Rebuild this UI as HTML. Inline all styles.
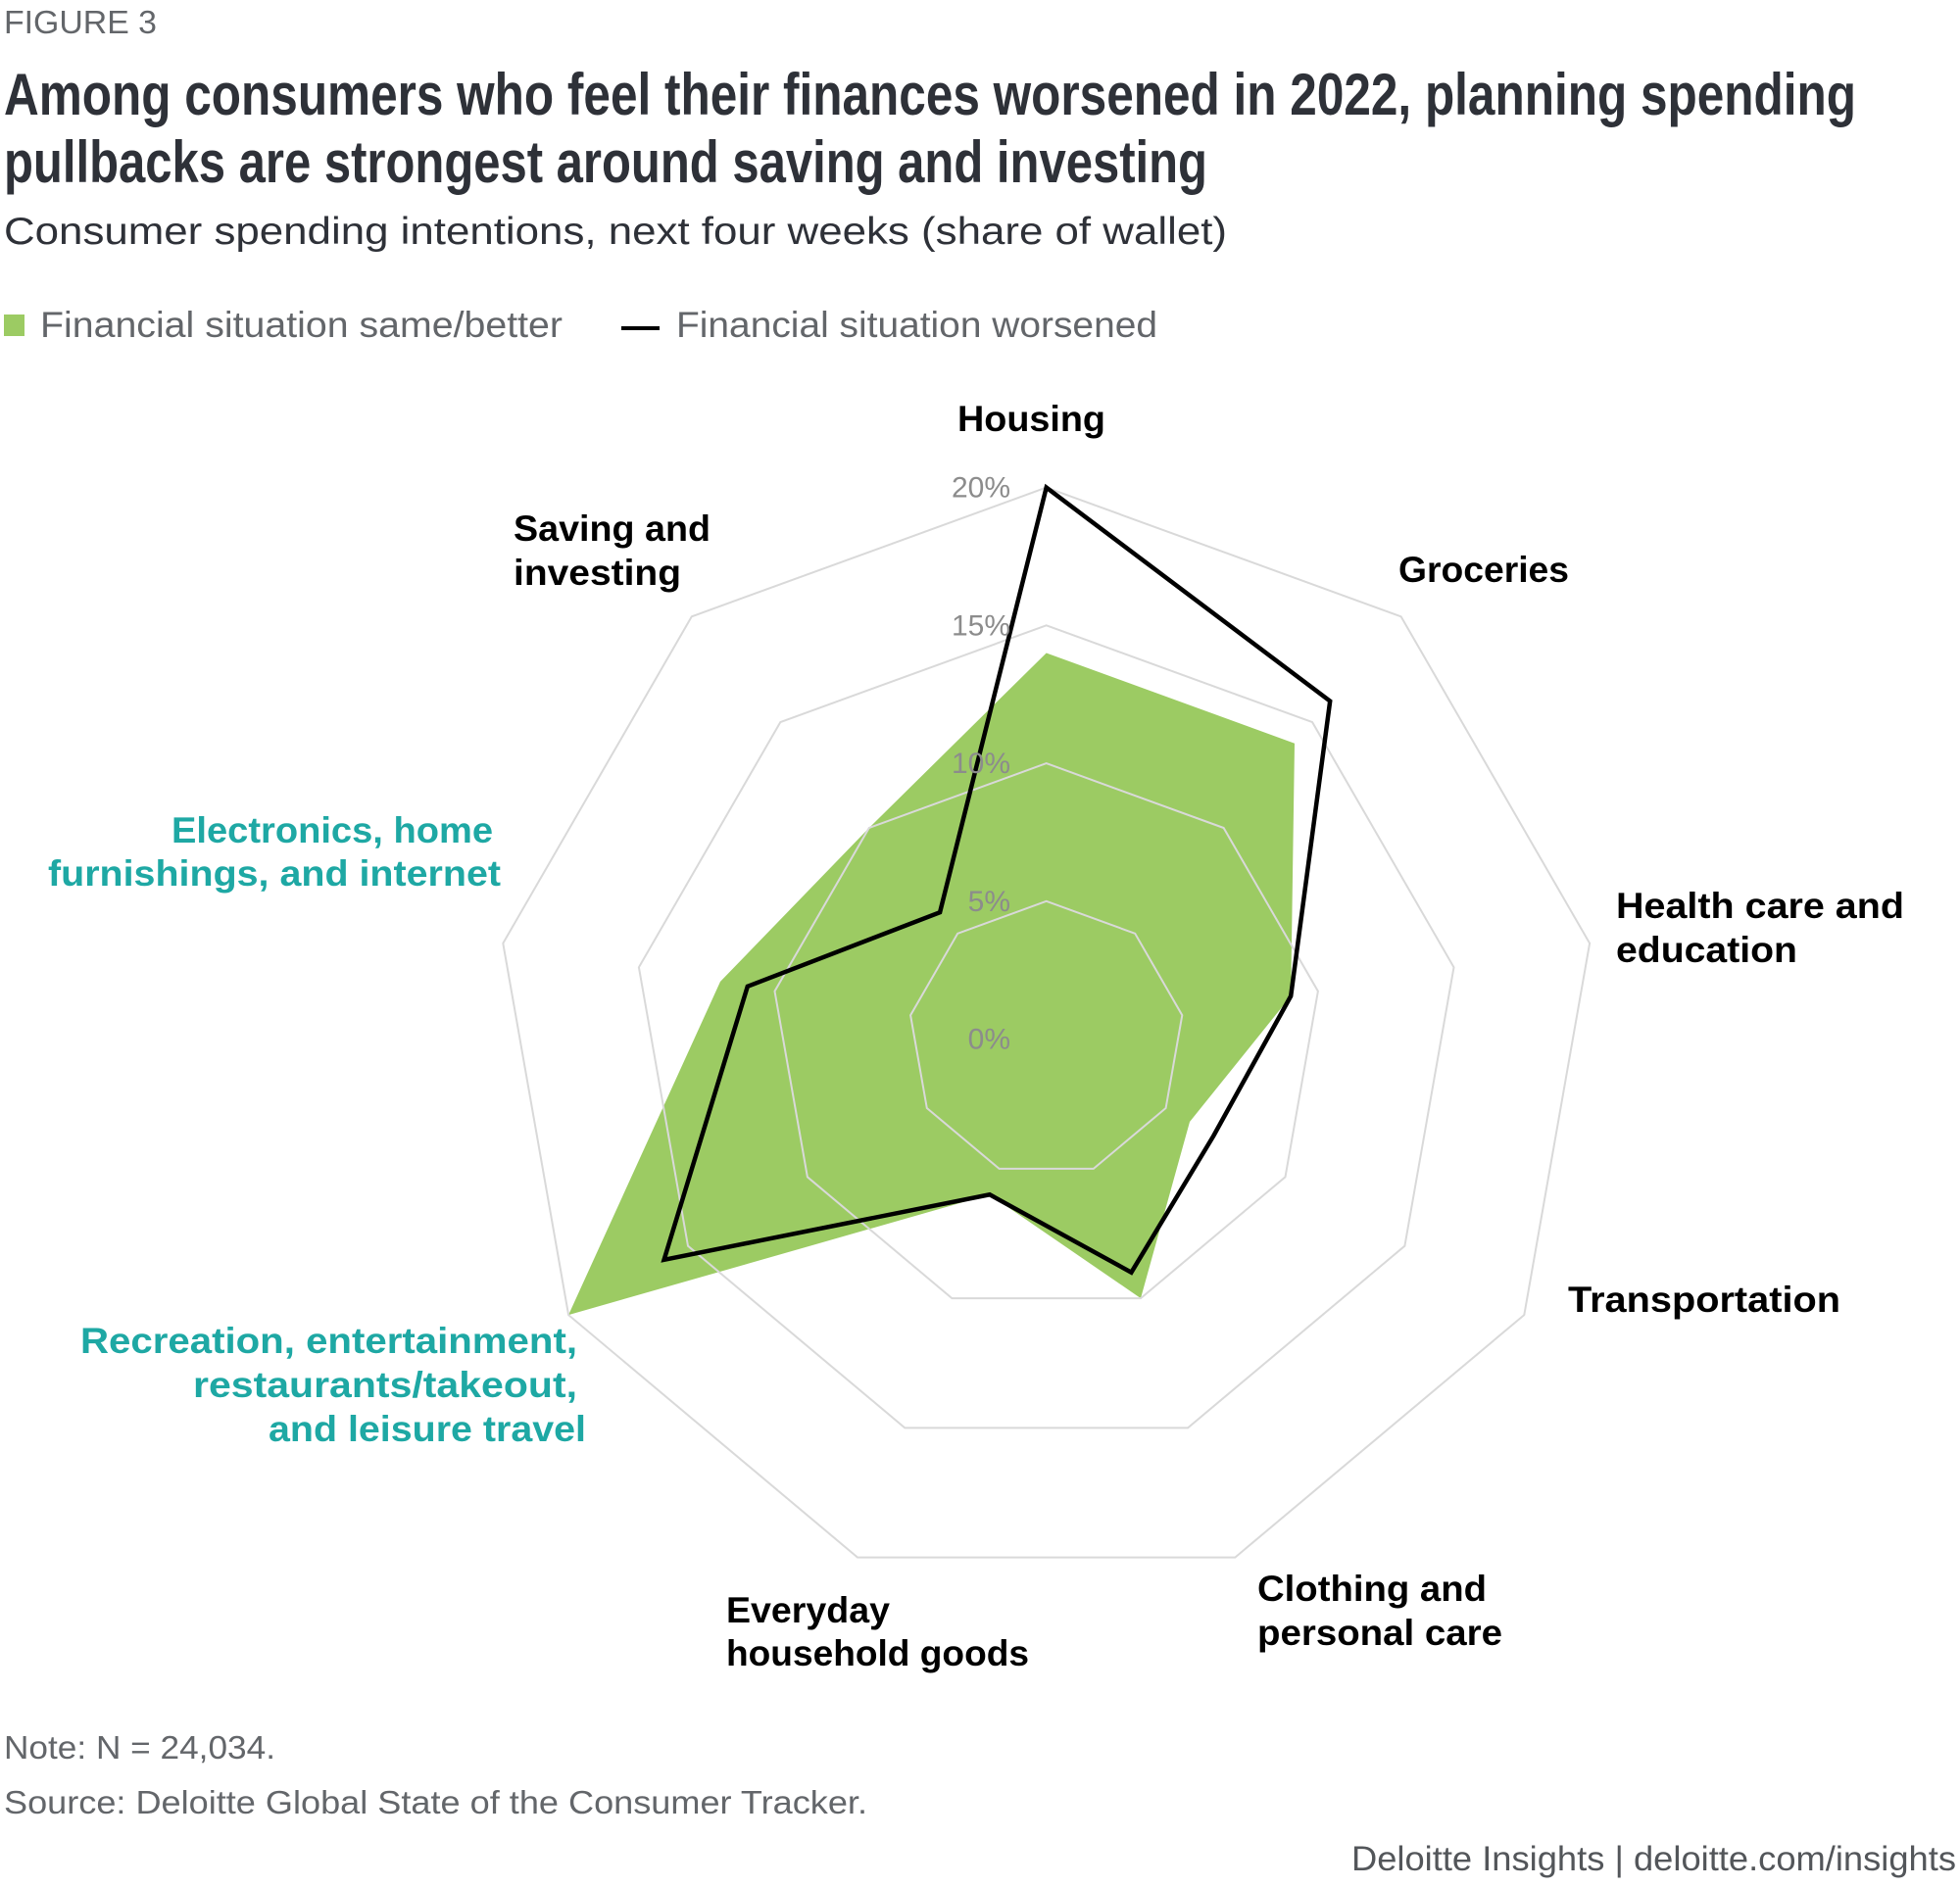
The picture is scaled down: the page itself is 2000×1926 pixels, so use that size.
<!DOCTYPE html>
<html><head><meta charset="utf-8"><style>
html,body{margin:0;padding:0;background:#fff;}
svg{display:block;}
text{font-family:"Liberation Sans",sans-serif;}
</style></head><body>
<svg id="chart" width="2000" height="1926" viewBox="0 0 2000 1926" xmlns="http://www.w3.org/2000/svg">
<text x="4" y="34" font-size="33" fill="#63666a" textLength="156" lengthAdjust="spacingAndGlyphs">FIGURE 3</text>
<text x="4" y="117" font-size="60" font-weight="bold" fill="#2e3138" textLength="1890" lengthAdjust="spacingAndGlyphs">Among consumers who feel their finances worsened in 2022, planning spending</text>
<text x="4" y="186" font-size="60" font-weight="bold" fill="#2e3138" textLength="1228" lengthAdjust="spacingAndGlyphs">pullbacks are strongest around saving and investing</text>
<text x="4" y="249" font-size="39" fill="#2e3138" textLength="1248" lengthAdjust="spacingAndGlyphs">Consumer spending intentions, next four weeks (share of wallet)</text>
<g>
<rect x="4" y="321" width="21" height="22" fill="#9ccb63"/>
<text x="41" y="344" font-size="37" fill="#63666a" textLength="533" lengthAdjust="spacingAndGlyphs">Financial situation same/better</text>
<line x1="634" y1="335" x2="673" y2="335" stroke="#000" stroke-width="4"/>
<text x="690" y="344" font-size="37" fill="#63666a" textLength="491" lengthAdjust="spacingAndGlyphs">Financial situation worsened</text>
</g>
<g id="plot"></g>
<g font-size="37" font-weight="bold">
<text x="977" y="440" fill="#000" textLength="151" lengthAdjust="spacingAndGlyphs">Housing</text>
<text x="524" y="552" fill="#000" textLength="201" lengthAdjust="spacingAndGlyphs">Saving and</text>
<text x="524" y="597" fill="#000" textLength="171" lengthAdjust="spacingAndGlyphs">investing</text>
<text x="1427" y="594" fill="#000" textLength="174" lengthAdjust="spacingAndGlyphs">Groceries</text>
<text x="1649" y="937" fill="#000" textLength="294" lengthAdjust="spacingAndGlyphs">Health care and</text>
<text x="1649" y="982" fill="#000" textLength="185" lengthAdjust="spacingAndGlyphs">education</text>
<text x="1600" y="1339" fill="#000" textLength="278" lengthAdjust="spacingAndGlyphs">Transportation</text>
<text x="1283" y="1634" fill="#000" textLength="234" lengthAdjust="spacingAndGlyphs">Clothing and</text>
<text x="1283" y="1679" fill="#000" textLength="250" lengthAdjust="spacingAndGlyphs">personal care</text>
<text x="741" y="1656" fill="#000" textLength="167" lengthAdjust="spacingAndGlyphs">Everyday</text>
<text x="741" y="1700" fill="#000" textLength="309" lengthAdjust="spacingAndGlyphs">household goods</text>
<text x="589" y="1381" fill="#1ea8a4" text-anchor="end" textLength="507" lengthAdjust="spacingAndGlyphs">Recreation, entertainment,</text>
<text x="589" y="1426" fill="#1ea8a4" text-anchor="end" textLength="392" lengthAdjust="spacingAndGlyphs">restaurants/takeout,</text>
<text x="598" y="1471" fill="#1ea8a4" text-anchor="end" textLength="324" lengthAdjust="spacingAndGlyphs">and leisure travel</text>
<text x="503" y="860" fill="#1ea8a4" text-anchor="end" textLength="328" lengthAdjust="spacingAndGlyphs">Electronics, home</text>
<text x="511" y="904" fill="#1ea8a4" text-anchor="end" textLength="462" lengthAdjust="spacingAndGlyphs">furnishings, and internet</text>
</g>
<text x="4" y="1795" font-size="33" fill="#63666a" textLength="277" lengthAdjust="spacingAndGlyphs">Note: N = 24,034.</text>
<text x="4" y="1851" font-size="33" fill="#63666a" textLength="881" lengthAdjust="spacingAndGlyphs">Source: Deloitte Global State of the Consumer Tracker.</text>
<text x="1996" y="1909" font-size="35" fill="#53565a" text-anchor="end" textLength="617" lengthAdjust="spacingAndGlyphs">Deloitte Insights | deloitte.com/insights</text>
</svg>
<script>
const categories = ["Housing","Groceries","Health care and education","Transportation","Clothing and personal care","Everyday household goods","Recreation, entertainment, restaurants/takeout, and leisure travel","Electronics, home furnishings, and internet","Saving and investing"];
const sameBetter = [14, 14, 9, 6, 10, 6, 20, 12, 10];
const worsened = [20, 16, 9, 7, 9, 6, 16, 11, 6];
const ringValues = [5, 10, 15, 20];
const tickLabels = ["0%", "5%", "10%", "15%", "20%"];
const tickValues = [0, 5, 10, 15, 20];

const NS = "http://www.w3.org/2000/svg";
const cx = 1067.7, cy = 1060.6, rMax = 563, vMax = 20;
const plot = document.getElementById("plot");
function rScale(v){ return v / vMax * rMax; }
function angle(i){ return i * 2 * Math.PI / categories.length; }
function pt(i, v){ const a = angle(i), r = rScale(v); return [cx + r*Math.sin(a), cy - r*Math.cos(a)]; }
function poly(vals){ return vals.map((v,i)=>pt(i,v).map(n=>n.toFixed(1)).join(",")).join(" "); }

const fill = document.createElementNS(NS, "polygon");
fill.setAttribute("points", poly(sameBetter));
fill.setAttribute("fill", "#9ccb63");


plot.appendChild(fill);

ringValues.forEach(function(rv){
  const ring = document.createElementNS(NS, "polygon");
  ring.setAttribute("points", poly(categories.map(()=>rv)));
  ring.setAttribute("fill", "none");
  ring.setAttribute("stroke", "#d9d9d9");
  ring.setAttribute("stroke-width", "2");
  
  
  plot.appendChild(ring);
});

const line = document.createElementNS(NS, "polygon");
line.setAttribute("points", poly(worsened));
line.setAttribute("fill", "none");
line.setAttribute("stroke", "#000");
line.setAttribute("stroke-width", "4.5");
line.setAttribute("stroke-linejoin", "miter");


plot.appendChild(line);

tickValues.forEach(function(tv, k){
  const t = document.createElementNS(NS, "text");
  t.setAttribute("x", 1031);
  t.setAttribute("y", (cy - rScale(tv) + 10).toFixed(1));
  t.setAttribute("text-anchor", "end");
  t.setAttribute("font-size", "30");
  t.setAttribute("fill", "#8c8c8c");
  t.textContent = tickLabels[k];
  
  
  plot.appendChild(t);
});
</script>
</body></html>
